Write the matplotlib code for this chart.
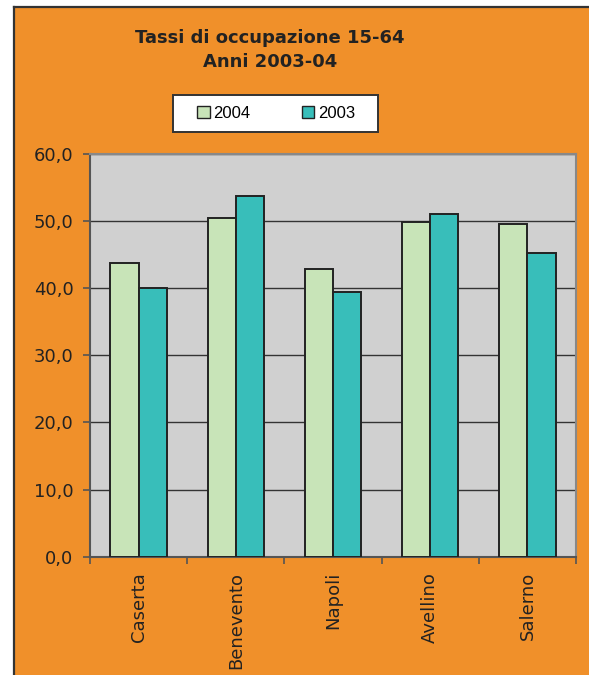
import matplotlib.pyplot as plt
from matplotlib.patches import Rectangle
from matplotlib.lines import Line2D
import numpy as np

# Tassi di occupazione 15-64 per provincia
province = ['Caserta', 'Benevento', 'Napoli', 'Avellino', 'Salerno']
anno_2004 = [43.8, 50.5, 42.8, 49.8, 49.5]
anno_2003 = [40.0, 53.8, 39.5, 51.0, 45.3]
y_ticks = [0, 10, 20, 30, 40, 50, 60]

arancio = '#F0902A'
verde = '#C8E4B8'
teal = '#38BEBA'
scuro = '#222222'

W, H = 589, 675
fig = plt.figure(figsize=(W / 100, H / 100), dpi=100)
fig.patch.set_facecolor('white')

# cornice arancione con bordo scuro
fig.patches.append(Rectangle((14 / W, 0), 1, 1 - 7 / H, transform=fig.transFigure,
                             facecolor=arancio, edgecolor='none', zorder=-10))
fig.add_artist(Line2D([14 / W, 14 / W], [0, 1 - 7 / H], transform=fig.transFigure,
                      color='#333333', lw=1.6, zorder=-5))
fig.add_artist(Line2D([14 / W, 1], [1 - 7 / H, 1 - 7 / H], transform=fig.transFigure,
                      color='#333333', lw=1.6, zorder=-5))

ax = fig.add_axes([90 / W, 1 - 556.7 / H, (576 - 90) / W, (556.7 - 154) / H])
ax.set_facecolor('#D0D0D0')

x = np.arange(len(province))
w = 0.29
ax.bar(x - w / 2, anno_2004, w, color=verde, edgecolor=scuro, linewidth=1.4, label='2004', zorder=3)
ax.bar(x + w / 2, anno_2003, w, color=teal, edgecolor=scuro, linewidth=1.4, label='2003', zorder=3)

ax.set_xlim(-0.5, len(province) - 0.5)
ax.set_ylim(0, 60)
ax.set_yticks(y_ticks)
ax.set_yticklabels([f'{v:.1f}'.replace('.', ',') for v in y_ticks], fontsize=13, color=scuro)
ax.yaxis.grid(True, color='#333333', linewidth=1.0, zorder=1)
ax.set_axisbelow(True)

ax.set_xticks(x)
ax.set_xticklabels(province, rotation=90, fontsize=13, color=scuro, va='top')
ax.set_xticks(np.arange(-0.5, len(province)), minor=True)
ax.tick_params(axis='x', which='major', length=0, pad=11)
ax.tick_params(axis='x', which='minor', length=5, color='#555555', width=1.2)
ax.tick_params(axis='y', length=5, color='#555555', width=1.2, pad=7)

for s in ax.spines.values():
    s.set_color('#888888')
    s.set_linewidth(1.5)
ax.spines['left'].set_color('#555555')
ax.spines['bottom'].set_color('#555555')

fig.text(270 / W, 1 - 50 / H, 'Tassi di occupazione 15-64\nAnni 2003-04', ha='center', va='center',
         fontsize=13, fontweight='bold', color=scuro, linespacing=1.45)

# legenda con riquadro bianco
fig.patches.append(Rectangle((173 / W, 1 - 132 / H), 205 / W, 37 / H, transform=fig.transFigure,
                             facecolor='white', edgecolor='#333333', lw=1.4, zorder=2))
leg = fig.legend(loc='center', bbox_to_anchor=(276 / W, 1 - 113.5 / H), ncol=2, frameon=False,
                 prop={'family': 'Liberation Sans', 'size': 12}, handlelength=0.75,
                 handleheight=0.75, handletextpad=0.2, columnspacing=3.1)
for h in leg.legend_handles:
    h.set_linewidth(1.0)

fig.savefig('out.png', dpi=100, facecolor=fig.get_facecolor())
